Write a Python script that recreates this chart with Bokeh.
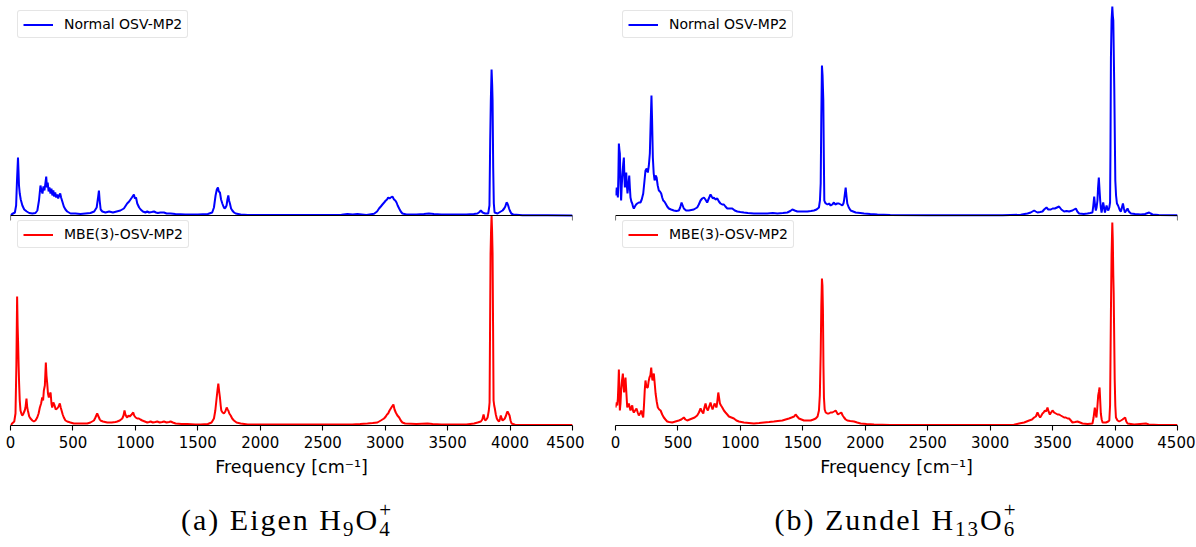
from bokeh.plotting import figure
from bokeh.models import Range1d, FixedTicker, Span, Legend, LegendItem, Div
from bokeh.layouts import row, column
from bokeh.embed import file_html
from bokeh.resources import INLINE

# ---------------- data ----------------
FREQ_TICKS = [0, 500, 1000, 1500, 2000, 2500, 3000, 3500, 4000, 4500]
X_LABEL = "Frequency [cm\u207b\u00b9]"
LABEL_TOP = "Normal OSV-MP2"
LABEL_BOTTOM = "MBE(3)-OSV-MP2"
CAPTION_A = ("(a) Eigen ", "9", "4")
CAPTION_B = ("(b) Zundel ", "13", "6")
FULL_SCALE = 210  # intensity units (arbitrary) at panel top

# (frequency cm^-1, intensity arb. units)
eigen_normal = [
    (0, 0), (13, 1.5), (35, 3), (45, 10), (52, 35), (60, 58), (64, 45), (68, 30), (74, 22), (82, 16),
    (95, 10), (110, 6), (130, 4), (150, 2.5), (175, 2), (200, 2.5), (215, 5), (228, 15), (240, 30), (248, 25),
    (256, 22), (264, 29), (272, 25), (280, 33), (286, 39), (292, 28), (298, 33), (305, 24), (312, 28), (320, 22),
    (328, 27), (335, 20), (343, 25), (350, 19), (358, 23), (366, 18), (374, 21), (382, 17), (390, 20), (398, 22),
    (405, 18), (415, 14), (427, 9), (440, 6), (454, 4), (481, 2), (520, 2), (560, 1.5), (600, 2), (640, 2.5),
    (670, 4), (690, 8), (700, 17), (708, 25), (714, 15), (722, 6), (735, 4), (760, 3), (790, 4), (820, 3),
    (850, 4), (880, 5), (908, 7), (934, 12), (950, 14), (961, 16), (972, 18), (988, 21), (996, 17), (1005, 18),
    (1015, 12), (1030, 8), (1042, 6), (1060, 4), (1080, 3), (1095, 4), (1110, 3), (1130, 3.5), (1149, 4), (1165, 3),
    (1180, 2.5), (1200, 3), (1229, 3), (1250, 2), (1282, 2), (1320, 1.5), (1400, 1), (1500, 1), (1580, 1.5), (1615, 3),
    (1629, 8), (1642, 20), (1652, 26), (1661, 28), (1668, 24), (1677, 23), (1686, 16), (1696, 12), (1705, 9), (1714, 7),
    (1722, 8), (1730, 10), (1737, 16), (1744, 20), (1750, 15), (1757, 12), (1766, 7), (1776, 5), (1790, 3), (1803, 2),
    (1843, 1), (1900, 0.5), (2100, 0.5), (2300, 0.5), (2500, 0.5), (2650, 0.7), (2698, 1.5), (2740, 1), (2778, 1.5), (2850, 0.5),
    (2911, 1.7), (2935, 4), (2951, 7), (2965, 9), (2978, 11), (2992, 13), (3005, 15), (3015, 16), (3024, 18), (3035, 17),
    (3045, 18), (3058, 19), (3071, 16), (3081, 15), (3091, 13), (3100, 10), (3112, 7), (3125, 4), (3138, 2), (3170, 1),
    (3250, 1), (3310, 1.5), (3350, 2), (3390, 1.5), (3450, 1), (3550, 1), (3650, 1), (3710, 1.5), (3739, 2), (3755, 3.5),
    (3766, 5), (3780, 3), (3800, 2), (3825, 2), (3835, 10), (3841, 75), (3846, 115), (3852, 146), (3857, 130), (3860, 115),
    (3865, 48), (3870, 12), (3876, 3), (3900, 2), (3913, 3), (3926, 4), (3940, 5), (3953, 7), (3962, 9), (3972, 13),
    (3979, 12), (3985, 10), (3992, 7), (3998, 5), (4010, 2), (4025, 1), (4100, 0.3), (4300, 0.3), (4500, 0),
]

eigen_mbe = [
    (0, 0), (13, 2), (30, 4), (40, 12), (47, 60), (53, 129), (57, 100), (61, 82), (65, 60), (69, 42),
    (74, 25), (80, 15), (87, 12), (93, 10), (100, 11), (107, 13), (114, 15), (120, 18), (128, 27), (134, 18),
    (139, 15), (150, 9), (160, 7), (175, 5), (187, 4), (200, 5), (214, 8), (225, 12), (235, 18), (245, 22),
    (254, 28), (261, 25), (267, 35), (275, 40), (283, 63), (288, 50), (294, 42), (300, 32), (307, 28), (314, 31),
    (321, 33), (328, 22), (334, 18), (343, 23), (353, 20), (362, 16), (374, 17), (385, 19), (395, 22), (402, 18),
    (409, 15), (418, 11), (427, 8), (440, 5), (454, 4), (480, 3), (507, 2), (560, 2), (614, 2), (640, 3),
    (668, 5), (680, 8), (694, 12), (701, 10), (708, 8), (715, 6), (721, 5), (740, 4), (775, 3), (810, 3),
    (840, 3.5), (855, 4), (875, 5), (895, 7), (905, 10), (913, 15), (920, 11), (928, 9), (935, 8), (945, 10),
    (955, 9), (962, 10), (970, 11), (983, 13), (990, 10), (1002, 8), (1015, 7), (1028, 7), (1040, 6), (1055, 5),
    (1075, 4), (1095, 3), (1110, 3.5), (1122, 4), (1140, 3), (1160, 3.5), (1175, 4), (1195, 3), (1215, 3.5), (1229, 4),
    (1250, 3), (1270, 3.5), (1282, 4), (1300, 3), (1322, 2), (1370, 1.5), (1416, 1.5), (1480, 1), (1522, 1), (1580, 1.5),
    (1610, 3), (1629, 7), (1640, 15), (1651, 28), (1658, 36), (1664, 42), (1670, 35), (1677, 28), (1683, 20), (1688, 15),
    (1698, 13), (1709, 12), (1720, 14), (1731, 18), (1738, 16), (1744, 15), (1752, 12), (1763, 10), (1775, 7), (1789, 5),
    (1810, 3), (1843, 2), (1900, 1), (2000, 1), (2200, 1), (2400, 1), (2600, 1), (2735, 1), (2800, 1.5), (2858, 2),
    (2900, 2.5), (2938, 3), (2965, 5), (2991, 7), (3005, 9), (3015, 11), (3024, 12), (3035, 15), (3045, 17), (3055, 19),
    (3066, 21), (3075, 16), (3085, 13), (3098, 10), (3112, 8), (3125, 5), (3138, 3), (3160, 2), (3250, 1.5), (3339, 2),
    (3380, 1.5), (3450, 1), (3550, 1), (3650, 1), (3712, 2), (3740, 3), (3766, 4), (3778, 6), (3788, 11), (3795, 7),
    (3801, 5), (3810, 6), (3820, 8), (3830, 15), (3836, 23), (3840, 100), (3844, 172), (3848, 195), (3852, 210), (3856, 195),
    (3860, 172), (3864, 100), (3868, 25), (3873, 20), (3878, 17), (3886, 11), (3894, 7), (3903, 5), (3913, 4), (3920, 7),
    (3926, 10), (3933, 7), (3940, 5), (3950, 6), (3958, 7), (3968, 10), (3975, 13), (3980, 14), (3988, 12), (3996, 10),
    (4004, 5), (4012, 2), (4040, 0.8), (4100, 0.5), (4300, 0.5), (4500, 0.5),
]

zundel_normal = [
    (0, 20), (8, 28), (14, 24), (19, 18), (23, 40), (27, 72), (31, 66), (35, 62), (40, 30), (45, 15),
    (50, 30), (56, 42), (62, 52), (67, 58), (71, 40), (75, 28), (80, 35), (86, 43), (91, 30), (96, 22),
    (103, 30), (110, 40), (115, 28), (120, 18), (127, 14), (134, 12), (140, 9), (147, 7), (155, 9), (165, 11),
    (174, 12), (187, 13), (200, 13), (210, 16), (222, 22), (230, 32), (240, 45), (250, 47), (259, 43), (267, 50),
    (275, 62), (281, 90), (288, 120), (293, 95), (299, 58), (306, 42), (313, 35), (321, 40), (329, 38), (338, 30),
    (347, 25), (356, 24), (366, 22), (374, 18), (382, 15), (391, 14), (401, 12), (414, 9), (427, 7), (445, 6),
    (467, 5), (487, 4.5), (507, 5), (518, 8), (529, 13), (538, 10), (547, 7), (565, 5), (587, 5), (607, 5.5),
    (627, 6), (640, 7), (654, 8), (667, 11), (681, 15), (694, 17), (708, 18), (720, 16), (734, 13), (747, 17),
    (761, 21), (770, 19), (780, 17), (788, 18), (800, 16), (815, 17), (828, 14), (841, 12), (855, 11), (868, 11),
    (880, 9), (895, 7), (915, 7), (935, 7), (955, 5), (975, 4), (1000, 3.5), (1028, 3), (1060, 2.5), (1108, 2),
    (1160, 2), (1215, 2), (1260, 2.5), (1296, 2), (1340, 2.5), (1376, 3), (1400, 4.5), (1416, 6), (1435, 5), (1456, 4),
    (1490, 4), (1536, 4), (1565, 4.5), (1589, 5), (1610, 6), (1629, 8), (1637, 15), (1643, 32), (1648, 100), (1653, 150),
    (1658, 140), (1664, 115), (1668, 60), (1672, 15), (1678, 13), (1685, 12), (1697, 11), (1710, 12), (1723, 10), (1736, 11),
    (1749, 13), (1760, 11), (1775, 12), (1789, 12), (1803, 11), (1816, 10), (1825, 12), (1830, 15), (1837, 22), (1843, 28),
    (1849, 20), (1856, 12), (1868, 8), (1883, 5), (1903, 4), (1923, 3), (1960, 2.5), (1990, 2), (2040, 1.5), (2097, 1),
    (2200, 0.5), (2500, 0.3), (2800, 0.3), (3100, 0.3), (3245, 0.7), (3275, 1.5), (3299, 2), (3325, 3), (3352, 5), (3365, 4),
    (3379, 3), (3400, 3.5), (3419, 4), (3432, 6), (3451, 8), (3465, 6), (3486, 6), (3500, 7), (3518, 7), (3535, 8),
    (3552, 9), (3570, 6), (3592, 4), (3612, 4.5), (3632, 4), (3645, 4.5), (3659, 5), (3672, 6), (3686, 7), (3698, 4),
    (3712, 2), (3750, 1.5), (3779, 2), (3800, 2.5), (3819, 3), (3826, 10), (3833, 19), (3840, 10), (3846, 5), (3852, 8),
    (3859, 15), (3864, 28), (3870, 38), (3876, 25), (3881, 15), (3886, 8), (3892, 3), (3899, 8), (3905, 13), (3912, 8),
    (3919, 3), (3925, 6), (3932, 10), (3939, 7), (3946, 5), (3954, 8), (3960, 13), (3963, 60), (3967, 158), (3972, 195),
    (3978, 209), (3982, 200), (3986, 195), (3990, 160), (3994, 125), (3998, 80), (4002, 35), (4008, 20), (4015, 12), (4024, 10),
    (4033, 7), (4040, 5), (4047, 4), (4055, 8), (4063, 12), (4071, 7), (4079, 3), (4090, 5), (4100, 7), (4110, 4),
    (4127, 2), (4160, 1.5), (4207, 1), (4240, 1.5), (4262, 2.5), (4273, 3), (4285, 2), (4300, 1), (4350, 0.5), (4500, 0.3),
]

zundel_mbe = [
    (0, 18), (8, 23), (14, 20), (19, 27), (23, 40), (27, 56), (31, 35), (35, 15), (40, 22), (45, 35),
    (52, 45), (59, 52), (64, 40), (69, 33), (75, 42), (80, 48), (86, 35), (94, 18), (100, 20), (107, 22),
    (114, 18), (120, 15), (127, 18), (134, 20), (140, 15), (147, 13), (157, 15), (168, 17), (178, 13), (187, 10),
    (197, 12), (206, 15), (214, 11), (222, 8), (228, 20), (234, 35), (240, 45), (246, 40), (252, 38), (259, 38),
    (265, 44), (272, 48), (279, 50), (286, 58), (291, 50), (296, 45), (301, 48), (307, 52), (314, 42), (321, 32),
    (330, 24), (339, 18), (350, 16), (361, 15), (374, 11), (387, 8), (400, 6), (414, 4), (430, 3.5), (454, 3),
    (480, 4), (507, 5), (527, 6), (547, 8), (560, 6), (574, 5), (594, 6), (614, 7), (634, 8), (654, 10),
    (668, 13), (681, 17), (692, 14), (703, 12), (712, 18), (721, 22), (730, 17), (740, 15), (750, 19), (761, 23),
    (769, 19), (777, 16), (785, 19), (793, 22), (801, 20), (809, 18), (816, 25), (823, 33), (829, 28), (836, 22),
    (845, 20), (855, 18), (868, 15), (881, 13), (895, 11), (908, 9), (928, 8), (948, 7), (968, 5), (988, 4),
    (1008, 3.5), (1028, 3), (1068, 2.5), (1108, 2), (1150, 2.5), (1188, 3), (1230, 3.5), (1268, 4), (1300, 4.5), (1336, 5),
    (1362, 6), (1389, 7), (1410, 8), (1430, 9), (1442, 11), (1455, 9), (1469, 7), (1489, 6), (1509, 5), (1536, 5),
    (1563, 5), (1585, 6), (1603, 7), (1618, 9), (1629, 15), (1636, 30), (1643, 72), (1648, 120), (1653, 147), (1657, 140),
    (1661, 115), (1665, 60), (1669, 28), (1675, 16), (1683, 13), (1696, 12), (1709, 12), (1722, 13), (1736, 13), (1750, 14),
    (1763, 15), (1772, 13), (1781, 11), (1794, 12), (1808, 13), (1819, 10), (1830, 8), (1843, 6), (1856, 5), (1880, 4.5),
    (1910, 4), (1935, 3), (1963, 2), (2010, 1.5), (2070, 1), (2200, 0.5), (2600, 0.5), (3000, 0.5), (3190, 0.7), (3232, 2),
    (3272, 3), (3312, 5), (3335, 6), (3352, 8), (3366, 9), (3379, 13), (3390, 10), (3400, 8), (3410, 10), (3419, 12),
    (3428, 13), (3438, 15), (3448, 14), (3459, 18), (3468, 14), (3478, 11), (3488, 13), (3499, 15), (3512, 13), (3526, 12),
    (3540, 11), (3552, 11), (3565, 10), (3579, 9), (3592, 8), (3606, 8), (3620, 7), (3632, 7), (3646, 5), (3659, 3),
    (3680, 3.5), (3699, 4), (3720, 3), (3739, 2), (3780, 1.5), (3819, 2), (3828, 8), (3838, 18), (3844, 12), (3851, 8),
    (3858, 18), (3865, 30), (3871, 34), (3876, 38), (3881, 25), (3886, 12), (3893, 6), (3900, 3), (3927, 3), (3945, 4),
    (3954, 5), (3960, 20), (3963, 60), (3967, 115), (3972, 170), (3978, 203), (3982, 185), (3986, 150), (3989, 132), (3993, 90),
    (3997, 47), (4002, 20), (4007, 8), (4020, 5), (4033, 4), (4047, 5), (4060, 6), (4070, 7), (4081, 8), (4090, 4),
    (4100, 2), (4153, 1), (4200, 1.5), (4247, 2), (4270, 1), (4350, 0.5), (4500, 0.5),
]

# ---------------- layout constants ----------------
FRAME_W = 562
H_BOT = 210   # px of lower panel
H_TOP = 210   # px of upper panel
FRAME_H = H_BOT + H_TOP
TOP_BORDER = 5
BOTTOM_BORDER = 65
CAPTION_H = 54
LEFT_BORDERS = (10, 31)
RIGHT_BORDERS = (12, 18)
CAPTION_SHIFT = (-9, -15)   # caption offset from the frame centre, px
CAP_FONT = 30
CAP_SPACING = 2


def split(pairs):
    return [p[0] for p in pairs], [p[1] for p in pairs]


def style_legend(leg):
    leg.label_text_font = "DejaVu Sans"
    leg.label_text_font_size = "14px"
    leg.label_text_color = "black"
    leg.glyph_width = 30
    leg.glyph_height = 15
    leg.label_height = 15
    leg.label_standoff = 11
    leg.padding = 5
    leg.spacing = 0
    leg.margin = 0
    leg.border_line_color = "#cccccc"
    leg.border_line_width = 1
    leg.background_fill_color = "white"
    leg.background_fill_alpha = 0.8
    if "border_radius" in leg.properties():
        leg.border_radius = 3


def make_column(top_pairs, bot_pairs, mb_left, mb_right):
    p = figure(frame_width=FRAME_W, frame_height=FRAME_H,
               x_range=Range1d(0, 4500),
               y_range=Range1d(0, FULL_SCALE * FRAME_H / H_BOT),
               output_backend="svg", toolbar_location=None,
               x_axis_location="below", y_axis_location=None,
               min_border_left=mb_left, min_border_right=mb_right,
               min_border_top=TOP_BORDER, min_border_bottom=BOTTOM_BORDER)
    s = H_TOP / FULL_SCALE
    p.extra_y_ranges = {"top": Range1d(-H_BOT / s, FULL_SCALE)}
    p.outline_line_color = None
    p.grid.visible = False
    p.background_fill_color = "white"
    p.border_fill_color = "white"

    tx, ty = split(top_pairs)
    bx, by = split(bot_pairs)
    r_top = p.line(tx, ty, line_color="#0000ff", line_width=2.0, y_range_name="top")
    r_bot = p.line(bx, by, line_color="#ff0000", line_width=2.0)

    # spine between the two panels, with its two end ticks
    p.add_layout(Span(location=0, dimension="width", y_range_name="top",
                      line_color="black", line_width=1.1))
    p.segment(x0=[FREQ_TICKS[0], FREQ_TICKS[-1]], y0=[0, 0],
              x1=[FREQ_TICKS[0], FREQ_TICKS[-1]], y1=[-5 / s, -5 / s],
              y_range_name="top", line_color="black", line_width=1.1)

    ax = p.xaxis[0]
    ax.ticker = FixedTicker(ticks=FREQ_TICKS, minor_ticks=[])
    ax.axis_line_color = "black"
    ax.axis_line_width = 1.1
    ax.major_tick_line_color = "black"
    ax.major_tick_line_width = 1.1
    ax.major_tick_in = 0
    ax.major_tick_out = 5
    ax.minor_tick_line_color = None
    ax.major_label_text_font = "DejaVu Sans"
    ax.major_label_text_font_size = "15px"
    ax.major_label_text_color = "black"
    ax.major_label_standoff = 5
    ax.axis_label = X_LABEL
    ax.axis_label_text_font = "DejaVu Sans"
    ax.axis_label_text_font_size = "17.5px"
    ax.axis_label_text_font_style = "normal"
    ax.axis_label_text_color = "black"
    ax.axis_label_standoff = 6

    # legend location = (left, bottom) of the box, measured from the frame's bottom-left
    leg_top = Legend(items=[LegendItem(label=LABEL_TOP, renderers=[r_top])],
                     location=(7, 387))
    leg_bot = Legend(items=[LegendItem(label=LABEL_BOTTOM, renderers=[r_bot])],
                     location=(7, 177))
    for lg in (leg_top, leg_bot):
        style_legend(lg)
        p.add_layout(lg)
    return p


def caption_html(parts, margin_left, shift):
    head, sub1, sub2 = parts
    sub_px = 0.7 * CAP_FONT
    back = (0.5 * sub_px + CAP_SPACING) * len(sub2)
    return (
        f'<div style="width:{FRAME_W}px; margin-left:{margin_left + shift}px; text-align:center; '
        f'font-family:\'Liberation Serif\'; font-size:{CAP_FONT}px; line-height:{CAP_FONT}px; '
        f'letter-spacing:{CAP_SPACING}px; color:black; padding-top:10px; white-space:nowrap;">'
        f'{head}H<span style="font-size:{sub_px}px; vertical-align:-0.3em; line-height:0;">{sub1}</span>'
        f'O<span style="font-size:{sub_px}px; vertical-align:-0.3em; line-height:0;">{sub2}</span>'
        f'<span style="font-size:{sub_px}px; vertical-align:0.62em; line-height:0; '
        f'margin-left:-{back:.1f}px;">+</span>'
        '</div>'
    )


p_left = make_column(eigen_normal, eigen_mbe, LEFT_BORDERS[0], RIGHT_BORDERS[0])
p_right = make_column(zundel_normal, zundel_mbe, LEFT_BORDERS[1], RIGHT_BORDERS[1])

w_left = LEFT_BORDERS[0] + FRAME_W + RIGHT_BORDERS[0]
w_right = LEFT_BORDERS[1] + FRAME_W + RIGHT_BORDERS[1]
d_left = Div(text=caption_html(CAPTION_A, LEFT_BORDERS[0], CAPTION_SHIFT[0]),
             width=w_left, height=CAPTION_H)
d_right = Div(text=caption_html(CAPTION_B, LEFT_BORDERS[1], CAPTION_SHIFT[1]),
              width=w_right, height=CAPTION_H)

layout = column(row(p_left, p_right), row(d_left, d_right))

open("out.html", "w").write(file_html(layout, INLINE))
